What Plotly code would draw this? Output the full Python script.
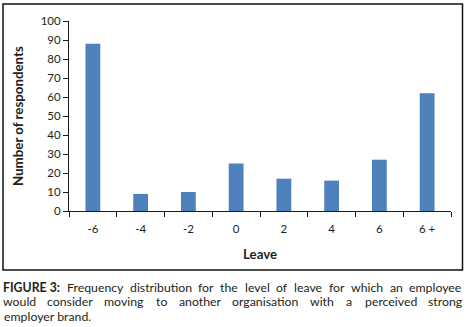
import plotly.graph_objects as go

# ---- data ----
categories = ["-6", "-4", "-2", "0", "2", "4", "6", "6 +"]
respondents = [88, 9, 10, 25, 17, 16, 27, 62]
y_ticks = list(range(0, 101, 10))

x_title = "Leave"
y_title = "Number of respondents"

caption_line1 = ["<b>FIGURE 3:</b>", "Frequency", "distribution", "for", "the", "level", "of", "leave",
                 "for", "which", "an", "employee"]
caption_line2 = ["would", "consider", "moving", "to", "another", "organisation", "with", "a",
                 "perceived", "strong"]
caption_line3 = "employer brand."

W, H = 468, 327
FONT = "Lato"
TXT = "#231f20"
CAP = 12.3

# approximate Lato advance widths (em) used to justify the caption text
CW = dict(a=.51, b=.56, c=.45, d=.56, e=.52, f=.31, g=.50, h=.56, i=.24, j=.24, k=.49, l=.24,
          m=.84, n=.56, o=.55, p=.55, q=.56, r=.36, s=.41, t=.34, u=.56, v=.49, w=.75, x=.48,
          y=.49, z=.44)
CW.update({" ": .19, ".": .21, ":": .23, "3": .58, "F": .54, "I": .28, "G": .70, "U": .70,
           "R": .60, "E": .56})


def text_width(word, size):
    bold = word.startswith("<b>")
    plain = word.replace("<b>", "").replace("</b>", "")
    w = sum(CW.get(ch, .55) for ch in plain) * size
    return w * (1.06 if bold else 1.0)


def justified_centers(words, x0, x1, size):
    widths = [text_width(w, size) for w in words]
    gap = (x1 - x0 - sum(widths)) / (len(words) - 1)
    centers, x = [], x0
    for w in widths:
        centers.append(x + w / 2)
        x += w + gap
    return centers


fig = go.Figure(go.Bar(
    x=categories, y=respondents,
    marker=dict(color="#4F81BD", line=dict(width=0)),
))

fig.update_layout(
    template="none",
    width=W, height=H,
    margin=dict(l=0, r=0, t=0, b=0, pad=0),
    paper_bgcolor="white", plot_bgcolor="white",
    showlegend=False,
    bargap=0.69,
    font=dict(family=FONT, size=11.5, color=TXT),
    xaxis=dict(
        domain=[69 / W, 451 / W],
        type="category", automargin=False,
        showline=True, linecolor="#1a1a1a", linewidth=1,
        ticks="outside", ticklen=5, tickcolor="#1a1a1a", tickwidth=1,
        tickson="boundaries", ticklabelstandoff=7,
        showgrid=False, zeroline=False,
        tickfont=dict(family=FONT, size=11.5, color=TXT),
    ),
    yaxis=dict(
        domain=[(H - 211) / H, (H - 21) / H],
        range=[0, 100], automargin=False,
        tickvals=y_ticks,
        showline=True, linecolor="#1a1a1a", linewidth=1,
        ticks="outside", ticklen=5, tickcolor="#1a1a1a", tickwidth=1,
        showgrid=False, zeroline=False,
        tickfont=dict(family=FONT, size=11.5, color=TXT),
    ),
)

annotations = [
    dict(text=f"<b>{x_title}</b>", x=260 / W, y=1 - 254 / H,
         xanchor="center", yanchor="middle", font=dict(size=13.3)),
    dict(text=f"<b>{y_title}</b>", x=18 / W, y=1 - 116 / H,
         xanchor="center", yanchor="middle", textangle=-90, font=dict(size=13.3)),
]
for w, cx in zip(caption_line1, justified_centers(caption_line1, 3, 462, CAP)):
    annotations.append(dict(text=w, x=cx / W, y=1 - 287 / H, xanchor="center",
                            yanchor="middle", font=dict(size=CAP)))
for w, cx in zip(caption_line2, justified_centers(caption_line2, 3, 462, CAP)):
    annotations.append(dict(text=w, x=cx / W, y=1 - 301.5 / H, xanchor="center",
                            yanchor="middle", font=dict(size=CAP)))
annotations.append(dict(text=caption_line3, x=3 / W, y=1 - 316 / H, xanchor="left",
                        yanchor="middle", font=dict(size=CAP)))
for a in annotations:
    a.update(xref="paper", yref="paper", showarrow=False, borderpad=0)
fig.update_layout(annotations=annotations)

fig.add_shape(type="rect", xref="paper", yref="paper",
              x0=3 / W, x1=462.5 / W, y0=1 - 270 / H, y1=1 - 4 / H,
              line=dict(color="#111111", width=1.5), fillcolor="rgba(0,0,0,0)")

fig.write_html("out.html",
               config={"displayModeBar": False},
               post_script="document.body.style.margin='0';document.body.style.padding='0';"
                           "document.body.style.overflow='hidden';")
